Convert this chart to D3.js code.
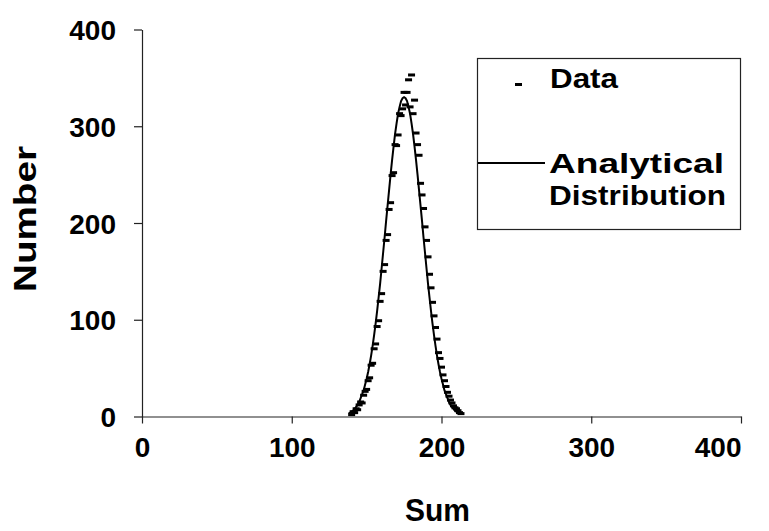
<!DOCTYPE html>
<html>
<head>
<meta charset="utf-8">
<script src="https://cdn.jsdelivr.net/npm/d3@7"></script>
<style>
  html, body { margin: 0; padding: 0; background: #fff; }
  svg { display: block; }
  text { font-family: "Liberation Sans", Arial, sans-serif; font-weight: bold; fill: #000; }
</style>
</head>
<body>
<svg id="chart" width="769" height="531"></svg>
<script>
// Observed sums (x) and how many times each occurred (y)
const dataSums = [140,141,142,143,144,145,146,147,148,149,150,151,152,153,154,155,156,157,158,159,
  160,161,162,163,164,165,166,167,168,169,170,171,172,173,174,175,176,177,178,179,
  180,181,182,183,184,185,186,187,188,189,190,191,192,193,194,195,196,197,198,199,
  200,201,202,203,204,205,206,207,208,209,210,211,212,213];
const dataCounts = [2,5,4,8,7,12,15,14,22,26,28,37,40,53,55,70,75,93,99,119,
  127,150,157,182,188,214,221,249,252,281,280,291,313,311,318,335,322,335,348,320,
  353,313,327,293,281,270,241,229,215,196,182,165,147,133,118,104,92,80,66,60,
  51,43,37,31,25,21,17,14,11,9,8,6,4,3];

// Analytical distribution curve
const curveSums = [138,139,140,141,142,143,144,145,146,147,148,149,150,151,152,153,154,155,156,157,
  158,159,160,161,162,163,164,165,166,167,168,169,170,171,172,173,174,175,176,177,
  178,179,180,181,182,183,184,185,186,187,188,189,190,191,192,193,194,195,196,197,
  198,199,200,201,202,203,204,205,206,207,208,209,210,211,212];
const curveCounts = [3,4,5,6,8,10,12,15,19,23,27,33,39,46,54,63,73,84,96,109,
  123,137,153,169,185,202,218,234,250,265,279,292,303,313,320,326,329,330,329,326,
  320,313,303,292,279,265,250,234,218,202,185,169,153,137,123,109,96,84,73,63,
  54,46,39,33,27,23,19,15,12,10,8,6,5,4,3];

const xTicks = [0, 100, 200, 300, 400];
const yTicks = [0, 100, 200, 300, 400];
const xTitle = "Sum";
const yTitle = "Number";
const legendLabels = ["Data", "Analytical", "Distribution"];

const svg = d3.select("#chart");

const x = d3.scaleLinear().domain([0, 400]).range([142, 741]);
const y = d3.scaleLinear().domain([0, 400]).range([416.5, 29.5]);

// Axes
const xAxis = svg.append("g")
  .attr("transform", `translate(0,${y(0)})`)
  .call(d3.axisBottom(x).tickValues(xTicks).tickSize(7).tickSizeOuter(0).tickPadding(14));
const yAxis = svg.append("g")
  .attr("transform", `translate(${x(0)},0)`)
  .call(d3.axisLeft(y).tickValues(yTicks).tickSize(8).tickSizeOuter(0).tickPadding(18));

[xAxis, yAxis].forEach(g => {
  g.select(".domain").attr("stroke", "#222").attr("stroke-width", 1.2);
  g.selectAll(".tick line").attr("stroke", "#222").attr("stroke-width", 1.2);
  g.selectAll(".tick text")
    .style("font-family", '"Liberation Sans", Arial, sans-serif')
    .style("font-weight", "bold")
    .style("font-size", "28px")
    .attr("fill", "#000");
});
xAxis.selectAll(".tick text").attr("dy", "0.71em");
// keep the last x label inside the chart area
xAxis.selectAll(".tick").filter(d => d === 400).select("text")
  .attr("text-anchor", "end").attr("x", 0);
yAxis.selectAll(".tick text").attr("dy", "0.36em");

// Axis titles
svg.append("text")
  .attr("x", 405).attr("y", 521)
  .attr("textLength", 65).attr("lengthAdjust", "spacingAndGlyphs")
  .style("font-size", "31px")
  .text(xTitle);
svg.append("text")
  .attr("transform", "translate(36,292) rotate(-90)")
  .attr("textLength", 146).attr("lengthAdjust", "spacingAndGlyphs")
  .style("font-size", "31px")
  .text(yTitle);

// Analytical curve
const line = d3.line().x((d, i) => x(curveSums[i])).y(d => y(d));
svg.append("path")
  .datum(curveCounts)
  .attr("d", line)
  .attr("fill", "none")
  .attr("stroke", "#000")
  .attr("stroke-width", 2);

// Data markers: short horizontal dashes
svg.append("g").selectAll("rect")
  .data(dataCounts)
  .join("rect")
  .attr("x", (d, i) => x(dataSums[i]) - 3.5)
  .attr("y", d => y(d) - 1.5)
  .attr("width", 7)
  .attr("height", 3)
  .attr("fill", "#000");

// Legend
const lg = svg.append("g");
lg.append("rect")
  .attr("x", 477.5).attr("y", 58.5).attr("width", 263).attr("height", 171)
  .attr("fill", "#fff").attr("stroke", "#222").attr("stroke-width", 1.2);
lg.append("rect")
  .attr("x", 515).attr("y", 83).attr("width", 7).attr("height", 3).attr("fill", "#000");
lg.append("line")
  .attr("x1", 478).attr("x2", 545).attr("y1", 163).attr("y2", 163)
  .attr("stroke", "#000").attr("stroke-width", 2);
lg.append("text").attr("x", 550).attr("y", 88)
  .attr("textLength", 68).attr("lengthAdjust", "spacingAndGlyphs")
  .style("font-size", "28px").text(legendLabels[0]);
lg.append("text").attr("x", 549).attr("y", 173)
  .attr("textLength", 175).attr("lengthAdjust", "spacingAndGlyphs")
  .style("font-size", "28px").text(legendLabels[1]);
lg.append("text").attr("x", 549).attr("y", 205)
  .attr("textLength", 177).attr("lengthAdjust", "spacingAndGlyphs")
  .style("font-size", "28px").text(legendLabels[2]);
</script>
</body>
</html>
